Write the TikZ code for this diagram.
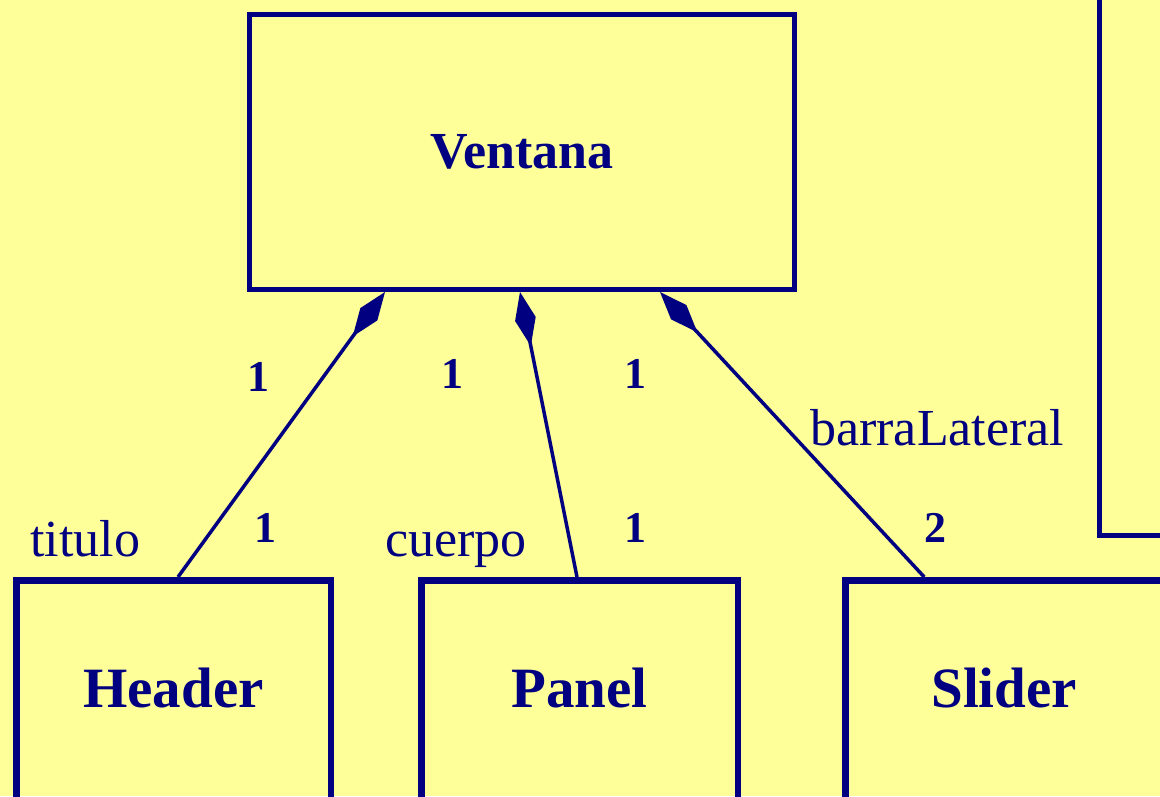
\documentclass[tikz,border=0pt]{standalone}
\usepackage{fontspec}
\setmainfont{Liberation Serif}
\usetikzlibrary{arrows.meta, positioning}
\definecolor{umlnavy}{RGB}{0,0,128}
\definecolor{umlpaper}{RGB}{255,255,153}

\begin{document}
\begin{tikzpicture}[x=1pt, y=-1pt]

    % Define styles for the nodes
    \tikzstyle{classbox} = [
        rectangle, draw=umlnavy, line width=5pt, inner sep=0pt,
        text=umlnavy, font=\fontsize{52}{60}\selectfont\bfseries
    ]
    \tikzstyle{partbox} = [
        classbox, line width=6.5pt, minimum height=240pt,
        text height=40pt, text depth=26.5pt,
        font=\fontsize{57}{64}\selectfont\bfseries
    ]
    \tikzstyle{mult} = [
        anchor=base, inner sep=0pt, text=umlnavy,
        font=\fontsize{44}{50}\selectfont\bfseries
    ]
    \tikzstyle{role} = [
        anchor=base west, inner sep=0pt, text=umlnavy,
        font=\fontsize{52}{60}\selectfont
    ]
    \tikzstyle{compo} = [
        draw=umlnavy, line width=3.5pt,
        {Diamond[length=55pt,width=21pt]}-
    ]

    % Paper
    \path [use as bounding box] (0,0) rectangle (1160,796);
    \fill [umlpaper] (0,0) rectangle (1160,796);
    \clip (0,0) rectangle (1160,796);

    % Nodes
    \node (ventana) [classbox, minimum width=545pt, minimum height=275pt] at (522,152) {Ventana};
    \node (header) [partbox, minimum width=314.5pt] at (173.5,700.25) {Header};
    \node (panel) [partbox, minimum width=316.5pt, right=84pt of header] {Panel};
    \node (slider) [partbox, minimum width=318pt, right=101pt of panel] {Slider};
    \node (lista) [classbox, minimum width=200pt, minimum height=600pt] at (1199,235.5) {};

    % Arrows
    \draw [compo] ([xshift=-137pt]ventana.south) -- ([xshift=4.5pt]header.north);
    \draw [compo] ([xshift=-2pt]ventana.south) -- ([xshift=-2.5pt]panel.north);
    \draw [compo] ([xshift=138pt]ventana.south) -- ([xshift=-80pt]slider.north);

    % Multiplicities and roles
    \node (m1) [mult] at (258,391) {1};
    \node (m2) [mult] at (452,388) {1};
    \node (m3) [mult] at (635,388) {1};
    \node (m4) [mult] at (265,542) {1};
    \node (m5) [mult] at (635,542) {1};
    \node (m6) [mult] at (935,542) {2};
    \node (titulo) [role] at (30,556) {titulo};
    \node (cuerpo) [role] at (385,556) {cuerpo};
    \node (barra) [role] at (810,445) {barraLateral};

\end{tikzpicture}
\end{document}
